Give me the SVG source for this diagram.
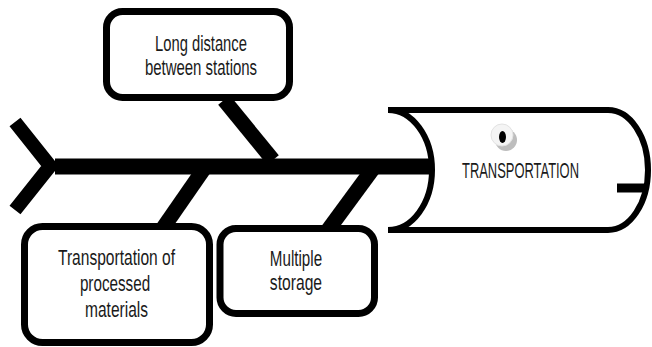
<svg xmlns="http://www.w3.org/2000/svg" width="652" height="347" viewBox="0 0 652 347">
  <style>
    .bone { stroke: #000; fill: none; stroke-linecap: butt; }
    .box { fill: #fff; stroke: #000; stroke-width: 7; }
    .lbl { font-family: "Liberation Sans", Arial, sans-serif; font-size: 22px; fill: #1a1a1a; text-anchor: middle; }
  </style>
  <rect width="652" height="347" fill="#fff"/>

  <!-- head of the fish: cylinder with concave left end -->
  <g id="head">
    <path d="M388,110 L608,110 A40,60 0 0 1 608,230 L388,230" fill="#fff" stroke="#000" stroke-width="6"/>
    <path d="M388,110 A44,60 0 0 1 388,230" fill="none" stroke="#000" stroke-width="6"/>
    <line x1="617" y1="188" x2="648" y2="188" stroke="#000" stroke-width="9"/>
    <circle cx="506" cy="140" r="11" fill="#bdbdbd"/>
    <circle cx="502" cy="135" r="11" fill="#f4f4f4" stroke="#e2e2e2" stroke-width="1"/>
    <ellipse cx="502.5" cy="137" rx="3.5" ry="6" fill="#000"/>
    <!-- labels are drawn in a horizontally condensed frame (x scaled by 0.6) -->
    <text class="lbl" transform="scale(0.6,1)" x="867.5" y="178" textLength="195" lengthAdjust="spacingAndGlyphs">TRANSPORTATION</text>
  </g>

  <!-- spine, tail and bones -->
  <g id="connectors">
    <polyline class="bone" points="15,122 50,166 15,210" stroke-width="14" stroke-linejoin="miter"/>
    <line class="bone" x1="55" y1="166.5" x2="433" y2="166.5" stroke-width="16"/>
    <line class="bone" x1="224" y1="100" x2="273" y2="160" stroke-width="15"/>
    <line class="bone" x1="206" y1="166" x2="163" y2="228" stroke-width="15"/>
    <line class="bone" x1="375" y1="166" x2="328" y2="230" stroke-width="15"/>
  </g>

  <g id="cause-long-distance">
    <rect class="box" x="106.5" y="11.5" width="183" height="86" rx="16"/>
    <text class="lbl" transform="scale(0.6,1)" x="335" y="51" textLength="153" lengthAdjust="spacingAndGlyphs">Long distance</text>
    <text class="lbl" transform="scale(0.6,1)" x="335" y="75" textLength="187" lengthAdjust="spacingAndGlyphs">between stations</text>
  </g>

  <g id="cause-processed-materials">
    <rect class="box" x="24.5" y="226.5" width="185" height="116" rx="18"/>
    <text class="lbl" transform="scale(0.6,1)" x="194.2" y="265" textLength="195" lengthAdjust="spacingAndGlyphs">Transportation of</text>
    <text class="lbl" transform="scale(0.6,1)" x="191.7" y="291" textLength="117" lengthAdjust="spacingAndGlyphs">processed</text>
    <text class="lbl" transform="scale(0.6,1)" x="194.2" y="317" textLength="105" lengthAdjust="spacingAndGlyphs">materials</text>
  </g>

  <g id="cause-multiple-storage">
    <rect class="box" x="220" y="228.5" width="154.5" height="85" rx="16"/>
    <text class="lbl" transform="scale(0.6,1)" x="493.3" y="266" textLength="87" lengthAdjust="spacingAndGlyphs">Multiple</text>
    <text class="lbl" transform="scale(0.6,1)" x="493.3" y="290" textLength="87" lengthAdjust="spacingAndGlyphs">storage</text>
  </g>
</svg>
